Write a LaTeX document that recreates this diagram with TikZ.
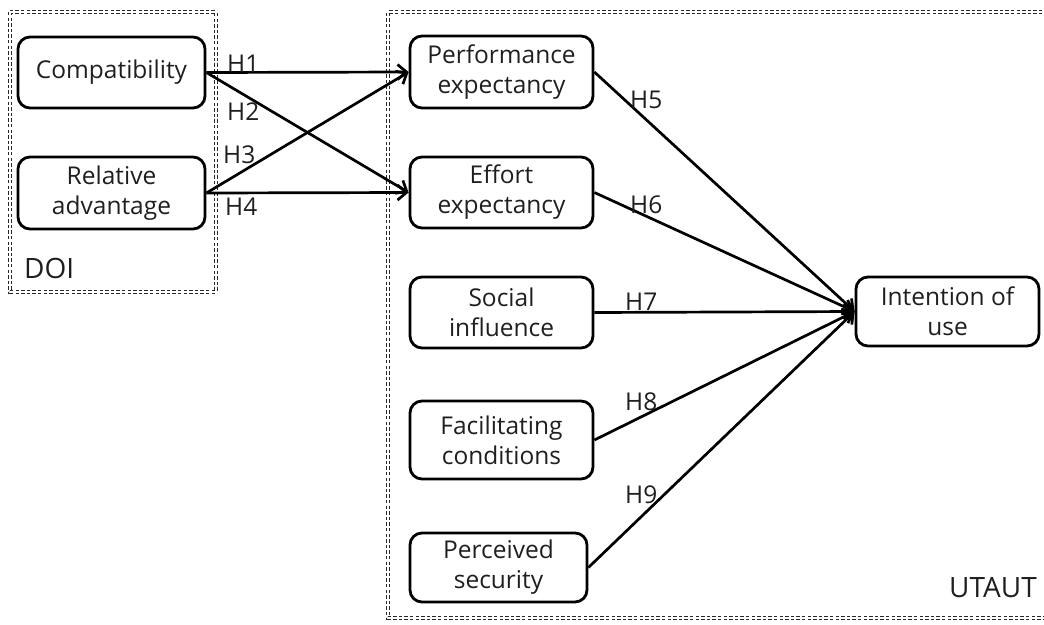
\documentclass[tikz,border=0pt]{standalone}
\usepackage{fontspec}
\setmainfont{Open Sans}
\usetikzlibrary{arrows.meta}
\begin{document}
\begin{tikzpicture}[x=1pt,y=-1pt,
  every node/.style={font=\fontsize{24.5}{30}\selectfont, text=black!88},
  box/.style={draw, line width=2.8pt, rounded corners=12pt, align=center, inner sep=0pt},
  grp/.style={draw=black!85, line width=1.3pt, double, double distance=1.1pt, dash pattern=on 3.4pt off 2.2pt},
  arr/.style={line width=2.7pt, -{Straight Barb[length=9pt,width=15pt,line width=2.7pt]}},
  lbl/.style={anchor=base west, inner sep=0pt},
  glbl/.style={anchor=base west, inner sep=0pt, font=\fontsize{28}{32}\selectfont}
]
\useasboundingbox (0,0) rectangle (1044,624);
% group frames
\draw[grp] (10,12) rectangle (216,292);
\draw[grp] (1048,12) -- (388,12) -- (388,618) -- (1048,618);
% nodes
\node[box, minimum width=187pt, minimum height=71pt] (comp) at (111.5,72.5) {Compatibility};
\node[box, minimum width=187pt, minimum height=72pt] (rel) at (111.5,193) {Relative\\advantage};
\node[box, minimum width=183pt, minimum height=72pt] (perf) at (501.5,72) {Performance\\expectancy};
\node[box, minimum width=183pt, minimum height=71pt] (eff) at (501.5,192.5) {Effort\\expectancy};
\node[box, minimum width=183pt, minimum height=71pt] (soc) at (501.5,312.5) {Social\\influence};
\node[box, minimum width=183pt, minimum height=78pt] (fac) at (501.5,440) {Facilitating\\conditions};
\node[box, minimum width=177pt, minimum height=69pt] (per) at (498.5,567.5) {Perceived\\security};
\node[box, minimum width=183pt, minimum height=69pt] (int) at (947.5,311.5) {Intention of\\use};
% group labels
\node[glbl] (doi) at (24,278) {DOI};
\node[glbl] (utaut) at (949,597) {UTAUT};
% connectors
\draw[arr] (comp.east) -- (perf.west);
\draw[arr] (comp.east) -- (eff.west);
\draw[arr] (rel.east) -- (perf.west);
\draw[arr] (rel.east) -- (eff.west);
\coordinate (tgt) at (int.west);
\draw[arr] (perf.east) -- (tgt);
\draw[arr] (eff.east) -- (tgt);
\draw[arr] (soc.east) -- (tgt);
\draw[arr] (fac.east) -- (tgt);
\draw[arr] (per.east) -- (tgt);
% hypothesis labels
\node[lbl] (h1) at (227,72) {H1};
\node[lbl] (h2) at (227,120) {H2};
\node[lbl] (h3) at (223,163) {H3};
\node[lbl] (h4) at (225,215) {H4};
\node[lbl] (h5) at (630,108) {H5};
\node[lbl] (h6) at (630,213) {H6};
\node[lbl] (h7) at (625,310) {H7};
\node[lbl] (h8) at (625,410) {H8};
\node[lbl] (h9) at (625,503) {H9};
\end{tikzpicture}
\end{document}
